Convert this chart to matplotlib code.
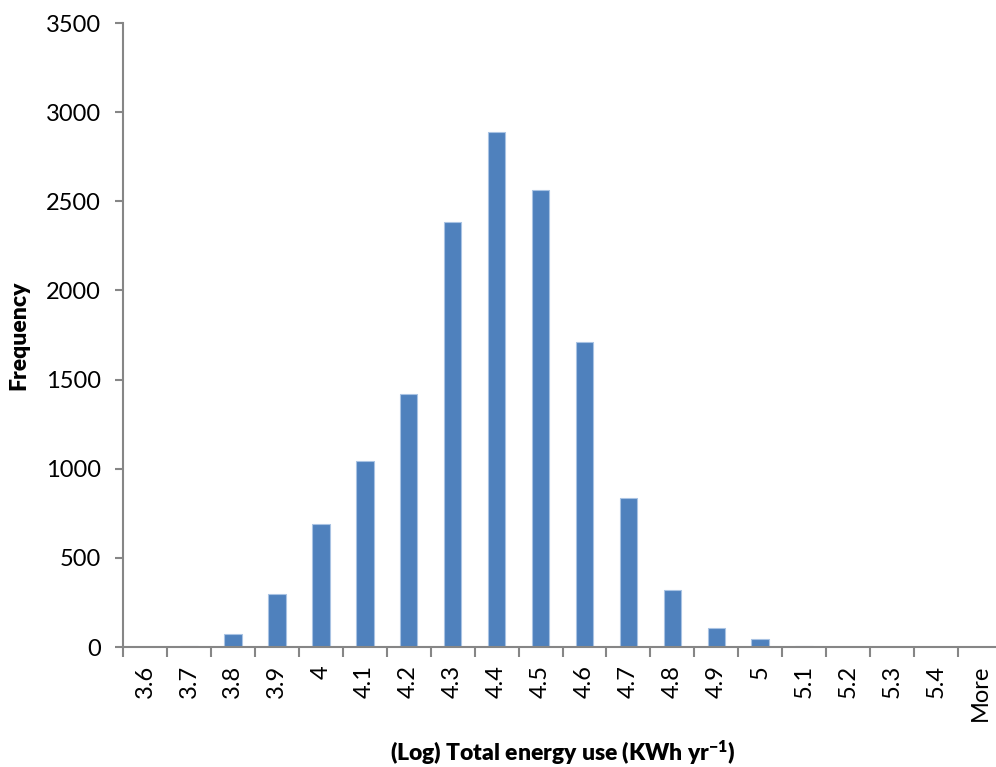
import matplotlib.pyplot as plt
import numpy as np

# histogram bins (upper bin edges) and counts
bins = ["3.6", "3.7", "3.8", "3.9", "4", "4.1", "4.2", "4.3", "4.4", "4.5",
        "4.6", "4.7", "4.8", "4.9", "5", "5.1", "5.2", "5.3", "5.4", "More"]
counts = [0, 8, 72, 300, 688, 1042, 1418, 2382, 2890, 2565,
          1708, 834, 322, 108, 47, 7, 0, 0, 0, 0]

plt.rcParams['font.family'] = ['Lato', 'DejaVu Sans']
plt.rcParams['mathtext.default'] = 'regular'

fig = plt.figure(figsize=(9.96, 7.67), dpi=100)
ax = fig.add_axes([123 / 996, 1 - 647 / 767, (1002 - 123) / 996, (647 - 23) / 767])

x = np.arange(len(bins))
ax.bar(x, counts, width=0.4, color='#4f81bd', edgecolor='#a9c3e3', linewidth=0.8)

axis_col = '#868686'
ax.set_xlim(-0.5, len(bins) - 0.5)
ax.set_ylim(0, 3500)
ax.set_yticks(np.arange(0, 3501, 500))
ax.set_xticks(x)
ax.set_xticklabels(bins, rotation=90, va='top', ha='center')
ax.set_xticks(np.arange(-0.5, len(bins), 1), minor=True)

for side in ['top', 'right']:
    ax.spines[side].set_visible(False)
for side in ['left', 'bottom']:
    ax.spines[side].set_color(axis_col)
    ax.spines[side].set_linewidth(1.5)

ax.tick_params(axis='x', which='major', length=0, pad=13, labelsize=17)
ax.tick_params(axis='x', which='minor', length=7, width=1.5, color=axis_col, direction='out')
ax.tick_params(axis='y', length=6, width=1.5, color=axis_col, direction='out', pad=10, labelsize=17)

ax.set_ylabel('Frequency', fontsize=16.5, fontweight='heavy', labelpad=12)
ax.set_xlabel('(Log) Total energy use (KWh yr$^{-1}$)', fontsize=16.5, fontweight='heavy', labelpad=12)

fig.savefig('out.png', dpi=100)
